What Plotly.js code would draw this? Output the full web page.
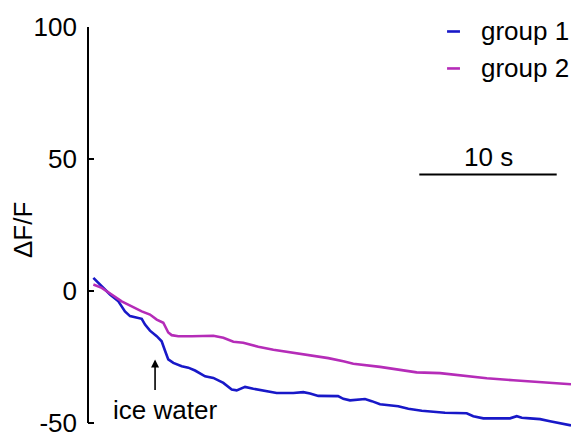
<!DOCTYPE html>
<html>
<head>
<meta charset="utf-8">
<script src="https://cdn.plot.ly/plotly-3.0.1.min.js"></script>
<style>
  html, body { margin: 0; padding: 0; background: #fff; }
  #chart { width: 571px; height: 437px; }
</style>
</head>
<body>
<div id="chart"></div>
<script>
// Calcium imaging traces (ΔF/F, %) after ice-water stimulation
const timeGroup1 = [0.39, 1.00, 1.60, 2.21, 2.69, 3.06, 3.54, 3.91, 4.15, 4.51, 5.00, 5.36, 5.60, 5.84,
  6.21, 6.82, 7.30, 7.79, 8.52, 9.12, 9.85, 10.46, 10.82, 11.43, 12.03, 13.01, 13.73, 14.94, 15.67,
  16.16, 16.76, 18.20, 18.58, 19.07, 20.16, 20.65, 21.25, 22.58, 23.31, 24.29, 25.01, 25.98, 27.56,
  28.04, 28.77, 30.71, 31.20, 31.57, 32.17, 32.90, 33.62, 34.35, 35.15];
const dffGroup1 = [5.0, 1.8, -1.3, -3.9, -7.7, -9.5, -10.2, -10.5, -12.7, -15.0, -17.1, -19.0, -22.5, -25.9,
  -27.2, -28.5, -29.0, -30.1, -32.3, -32.9, -34.8, -37.3, -37.6, -36.3, -37.0, -38.0, -38.6, -38.6, -38.3,
  -38.8, -39.7, -39.8, -40.8, -41.4, -40.9, -41.7, -42.9, -43.6, -44.6, -45.3, -45.6, -46.1, -46.3,
  -47.4, -48.2, -48.2, -47.4, -48.0, -48.2, -48.5, -49.3, -50.2, -50.9];

const timeGroup2 = [0.39, 1.00, 1.72, 2.45, 3.18, 3.91, 4.51, 5.00, 5.48, 5.68, 5.84, 6.09, 6.57, 7.55,
  8.64, 9.12, 9.85, 10.58, 11.30, 12.39, 13.49, 14.70, 15.43, 16.40, 17.49, 18.58, 19.31, 21.25, 22.71,
  23.92, 25.62, 27.07, 29.02, 30.95, 32.41, 33.87, 35.15];
const dffGroup2 = [2.5, 1.2, -1.3, -3.9, -5.8, -7.7, -8.9, -10.8, -12.0, -13.8, -15.7, -16.7, -17.1, -17.1,
  -16.9, -16.9, -17.7, -19.2, -19.6, -21.1, -22.2, -23.2, -23.6, -24.6, -25.4, -26.6, -27.5, -28.7, -30.0,
  -30.8, -31.1, -32.0, -33.0, -33.8, -34.3, -34.8, -35.3];

const seriesNames = ["group 1", "group 2"];
const seriesColors = ["#1818c8", "#b52cb8"];

const yTicks = [-50, 0, 50, 100];
const yTickText = ["-50", "0", "50", "100"];

const iceWaterTime = 4.88;      // s, stimulus onset
const scaleBarStart = 24.11;     // s
const scaleBarLength = 10;       // s
const scaleBarLevel = 44.1;      // ΔF/F units

const FONT = "Liberation Sans, Arial, Helvetica, sans-serif";
const FS = 26;

const traces = [
  { x: timeGroup1, y: dffGroup1, name: seriesNames[0], mode: "lines",
    line: { color: seriesColors[0], width: 2.6 }, showlegend: false },
  { x: timeGroup2, y: dffGroup2, name: seriesNames[1], mode: "lines",
    line: { color: seriesColors[1], width: 2.6 }, showlegend: false }
];

// compact legend: short coloured dash + label
const legendX0 = 26.13, legendX1 = 27.07, legendTextX = 28.45;
const legendY = [98.3, 84.3];

const shapes = [
  // y spine from -50 to 100
  { type: "line", xref: "paper", yref: "y", x0: 0, x1: 0, y0: -50, y1: 100,
    line: { color: "#000", width: 2 } },
  // 10 s scale bar
  { type: "line", xref: "x", yref: "y", x0: scaleBarStart, x1: scaleBarStart + scaleBarLength,
    y0: scaleBarLevel, y1: scaleBarLevel, line: { color: "#000", width: 2 } }
];
const annotations = [
  { x: scaleBarStart + scaleBarLength / 2, y: scaleBarLevel, xref: "x", yref: "y",
    text: "10 s", showarrow: false, yanchor: "bottom", yshift: 1,
    font: { family: FONT, size: FS, color: "#000" } },
  { x: iceWaterTime, y: -25.9, xref: "x", yref: "y", text: "", showarrow: true,
    ax: 0, ay: 32, arrowhead: 2, arrowsize: 1, arrowwidth: 1.6, arrowcolor: "#000", standoff: 0 },
  { x: 5.57, y: -45.2, xref: "x", yref: "y", text: "ice water", showarrow: false,
    xanchor: "center", yanchor: "middle",
    font: { family: FONT, size: FS, color: "#000" } },
  { xref: "paper", yref: "y", x: -0.133, y: 23, xanchor: "center", yanchor: "middle",
    text: "ΔF/F", textangle: -90, showarrow: false,
    font: { family: FONT, size: FS, color: "#000" } }
];
seriesNames.forEach((name, i) => {
  shapes.push({ type: "line", xref: "x", yref: "y", x0: legendX0, x1: legendX1,
    y0: legendY[i], y1: legendY[i], line: { color: seriesColors[i], width: 2.6 } });
  annotations.push({ x: legendTextX, y: legendY[i], xref: "x", yref: "y", text: name,
    showarrow: false, xanchor: "left", yanchor: "middle",
    font: { family: FONT, size: FS, color: "#000" } });
});

const layout = {
  width: 571, height: 437,
  margin: { l: 88, r: 0, t: 27, b: 6, pad: 0 },
  paper_bgcolor: "#fff", plot_bgcolor: "#fff",
  showlegend: false,
  xaxis: { visible: false, range: [0, 35.15], fixedrange: true },
  yaxis: {
    range: [-53, 100], showline: false, showgrid: false, zeroline: false,
    tickmode: "array", tickvals: yTicks, ticktext: yTickText,
    ticks: "inside", ticklen: 6, tickwidth: 2, tickcolor: "#000",
    ticklabelstandoff: 10, ticklabeloverflow: "allow",
    tickfont: { family: FONT, size: FS, color: "#000" },
    fixedrange: true
  },
  shapes: shapes,
  annotations: annotations
};

Plotly.newPlot("chart", traces, layout, { displayModeBar: false, staticPlot: true });
</script>
</body>
</html>
